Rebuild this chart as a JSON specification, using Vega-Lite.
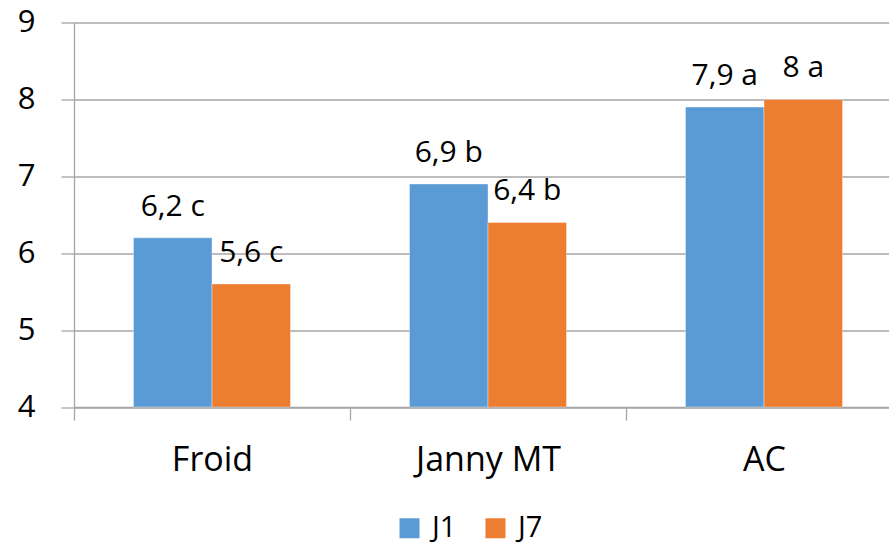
{
  "$schema": "https://vega.github.io/schema/vega-lite/v6.json",
  "width": 815,
  "height": 384.5,
  "autosize": {"type": "none"},
  "padding": {"left": 74, "top": 22.5, "right": 0, "bottom": 139},
  "background": "white",
  "config": {
    "font": "Open Sans",
    "view": {"stroke": null},
    "axis": {
      "domainColor": "#A6A6A6",
      "tickColor": "#A6A6A6",
      "gridColor": "#A6A6A6",
      "domainWidth": 1.3,
      "tickWidth": 1.3,
      "gridWidth": 1.3,
      "labelColor": "#000000",
      "labelFont": "Open Sans",
      "title": null
    }
  },
  "data": {
    "values": [
      {"traitement": "Froid", "jour": "J1", "valeur": 6.2, "groupe": "c"},
      {"traitement": "Froid", "jour": "J7", "valeur": 5.6, "groupe": "c"},
      {"traitement": "Janny MT", "jour": "J1", "valeur": 6.9, "groupe": "b"},
      {"traitement": "Janny MT", "jour": "J7", "valeur": 6.4, "groupe": "b"},
      {"traitement": "AC", "jour": "J1", "valeur": 7.9, "groupe": "a"},
      {"traitement": "AC", "jour": "J7", "valeur": 8, "groupe": "a"}
    ]
  },
  "transform": [
    {"calculate": "replace(toString(datum.valeur), '.', ',') + ' ' + datum.groupe", "as": "etiquette"}
  ],
  "encoding": {
    "x": {
      "field": "traitement",
      "type": "nominal",
      "sort": ["Froid", "Janny MT", "AC"],
      "scale": {"range": [0, 828], "paddingInner": 0, "paddingOuter": 0},
      "axis": {
        "labelAngle": 0,
        "labelFontSize": 34,
        "labelPadding": 23,
        "tickSize": 13,
        "tickBand": "extent",
        "grid": false
      }
    },
    "xOffset": {"field": "jour", "type": "nominal", "sort": ["J1", "J7"], "scale": {"paddingInner": 0, "paddingOuter": 0.758}},
    "y": {
      "field": "valeur",
      "type": "quantitative",
      "scale": {"domain": [4, 9], "nice": false, "zero": false},
      "axis": {
        "values": [4, 5, 6, 7, 8, 9],
        "labelFontSize": 31,
        "labelPadding": 26,
        "tickSize": 13,
        "grid": true
      }
    }
  },
  "layer": [
    {
      "mark": {"type": "bar", "stroke": "white", "strokeWidth": 0.6, "strokeOpacity": 0.6},
      "encoding": {
        "y2": {"datum": 4},
        "color": {
          "field": "jour",
          "type": "nominal",
          "sort": ["J1", "J7"],
          "scale": {"range": ["#5B9BD5", "#ED7D31"]},
          "legend": {
            "orient": "none",
            "legendX": 321,
            "legendY": 491,
            "direction": "horizontal",
            "title": null,
            "symbolType": "square",
            "symbolSize": 400,
            "symbolStrokeWidth": 0,
            "labelFontSize": 29,
            "labelFont": "Open Sans",
            "labelColor": "#000000",
            "labelOffset": 8,
            "columnPadding": 24
          }
        }
      }
    },
    {
      "mark": {"type": "text", "baseline": "alphabetic", "dy": -22, "fontSize": 30, "color": "#000000"},
      "encoding": {"text": {"field": "etiquette"}}
    }
  ]
}
